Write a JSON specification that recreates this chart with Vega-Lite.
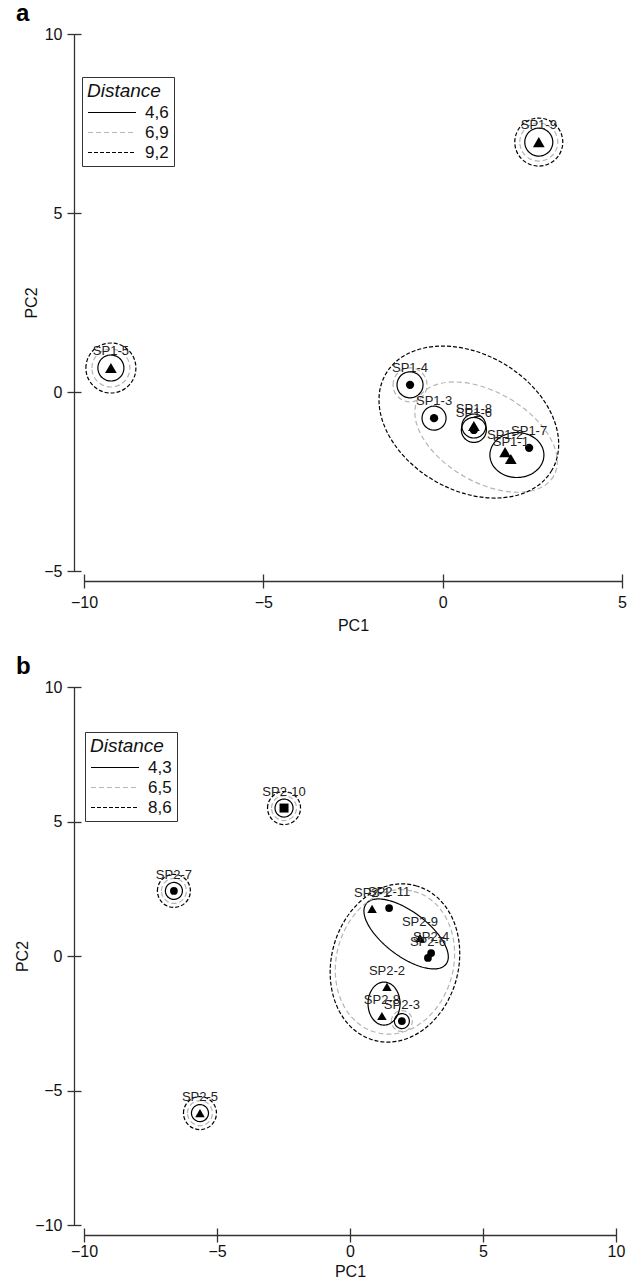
{
 "$schema": "https://vega.github.io/schema/vega-lite/v6.json",
 "padding": {"left": 14, "top": 2, "right": 5, "bottom": 2},
 "bounds": "flush",
 "spacing": 116,
 "config": {
  "view": {"stroke": null},
  "font": "Liberation Sans",
  "axis": {"grid": false, "labelFont": "Liberation Sans", "titleFont": "Liberation Sans", "labelFontSize": 16, "titleFontSize": 16, "titleFontWeight": "normal", "labelColor": "#111", "titleColor": "#111", "domainColor": "#333", "tickColor": "#333", "domainWidth": 1.3, "tickWidth": 1.3, "labelFlush": false, "labelOverlap": false},
  "title": {"anchor": "start", "frame": "group", "fontSize": 24, "fontWeight": "bold", "color": "#000", "font": "Liberation Sans"}
 },
 "datasets": {
  "a_pts": [
   {"label": "SP1-5", "marker": "triangle", "pc1": -9.25, "pc2": 0.67},
   {"label": "SP1-9", "marker": "triangle", "pc1": 2.68, "pc2": 6.98},
   {"label": "SP1-4", "marker": "circle", "pc1": -0.91, "pc2": 0.2},
   {"label": "SP1-3", "marker": "circle", "pc1": -0.24, "pc2": -0.73},
   {"label": "SP1-8", "marker": "triangle", "pc1": 0.87, "pc2": -0.95},
   {"label": "SP1-6", "marker": "circle", "pc1": 0.87, "pc2": -1.06},
   {"label": "SP1-2", "marker": "triangle", "pc1": 1.74, "pc2": -1.68},
   {"label": "SP1-1", "marker": "triangle", "pc1": 1.9, "pc2": -1.87},
   {"label": "SP1-7", "marker": "circle", "pc1": 2.41, "pc2": -1.56}
  ],
  "a_ell": [
   {"id": "a5s", "pc1": -9.25, "pc2": 0.67, "level": "4,6"},
   {"id": "a5g", "pc1": -9.25, "pc2": 0.67, "level": "6,9"},
   {"id": "a5d", "pc1": -9.25, "pc2": 0.67, "level": "9,2"},
   {"id": "a9s", "pc1": 2.68, "pc2": 6.98, "level": "4,6"},
   {"id": "a9g", "pc1": 2.68, "pc2": 6.98, "level": "6,9"},
   {"id": "a9d", "pc1": 2.68, "pc2": 6.98, "level": "9,2"},
   {"id": "a4s", "pc1": -0.91, "pc2": 0.2, "level": "4,6"},
   {"id": "a4g", "pc1": -0.91, "pc2": 0.2, "level": "6,9"},
   {"id": "a3s", "pc1": -0.24, "pc2": -0.73, "level": "4,6"},
   {"id": "a8s", "pc1": 0.87, "pc2": -0.95, "level": "4,6"},
   {"id": "a6s", "pc1": 0.87, "pc2": -1.06, "level": "4,6"},
   {"id": "a1s", "pc1": 2.07, "pc2": -1.76, "level": "4,6"},
   {"id": "a1g", "pc1": 1.21, "pc2": -1.26, "level": "6,9"},
   {"id": "a1d", "pc1": 0.73, "pc2": -0.84, "level": "9,2"}
  ],
  "b_pts": [
   {"label": "SP2-10", "marker": "square", "pc1": -2.48, "pc2": 5.5},
   {"label": "SP2-7", "marker": "circle", "pc1": -6.62, "pc2": 2.42},
   {"label": "SP2-5", "marker": "triangle", "pc1": -5.64, "pc2": -5.84},
   {"label": "SP2-1", "marker": "triangle", "pc1": 0.83, "pc2": 1.75},
   {"label": "SP2-11", "marker": "circle", "pc1": 1.47, "pc2": 1.78},
   {"label": "SP2-9", "marker": "triangle", "pc1": 2.63, "pc2": 0.67},
   {"label": "SP2-4", "marker": "circle", "pc1": 3.05, "pc2": 0.11},
   {"label": "SP2-6", "marker": "circle", "pc1": 2.93, "pc2": -0.07},
   {"label": "SP2-2", "marker": "triangle", "pc1": 1.39, "pc2": -1.15},
   {"label": "SP2-8", "marker": "triangle", "pc1": 1.2, "pc2": -2.23},
   {"label": "SP2-3", "marker": "circle", "pc1": 1.95, "pc2": -2.42}
  ],
  "b_ell": [
   {"id": "b10s", "pc1": -2.48, "pc2": 5.5, "level": "4,3"},
   {"id": "b10g", "pc1": -2.48, "pc2": 5.5, "level": "6,5"},
   {"id": "b10d", "pc1": -2.48, "pc2": 5.5, "level": "8,6"},
   {"id": "b7s", "pc1": -6.62, "pc2": 2.42, "level": "4,3"},
   {"id": "b7g", "pc1": -6.62, "pc2": 2.42, "level": "6,5"},
   {"id": "b7d", "pc1": -6.62, "pc2": 2.42, "level": "8,6"},
   {"id": "b5s", "pc1": -5.64, "pc2": -5.84, "level": "4,3"},
   {"id": "b5g", "pc1": -5.64, "pc2": -5.84, "level": "6,5"},
   {"id": "b5d", "pc1": -5.64, "pc2": -5.84, "level": "8,6"},
   {"id": "b3s", "pc1": 1.95, "pc2": -2.42, "level": "4,3"},
   {"id": "b3g", "pc1": 1.95, "pc2": -2.42, "level": "6,5"},
   {"id": "b1s", "pc1": 2.11, "pc2": 0.82, "level": "4,3"},
   {"id": "b2s", "pc1": 1.28, "pc2": -1.77, "level": "4,3"},
   {"id": "b1g", "pc1": 1.69, "pc2": -0.22, "level": "6,5"},
   {"id": "b1d", "pc1": 1.69, "pc2": -0.26, "level": "8,6"}
  ]
 },
 "resolve": {"scale": {"x": "independent", "y": "independent", "stroke": "independent", "strokeDash": "independent", "shape": "independent"}, "legend": {"stroke": "independent", "strokeDash": "independent"}},
 "vconcat": [
  {
   "width": 538,
   "height": 537,
   "title": {"text": "a", "dx": -68, "offset": 0},
   "resolve": {"axis": {"x": "independent", "y": "independent"}},
   "layer": [
    {
     "data": {"name": "a_ell"},
     "mark": {"type": "point", "filled": false, "size": 4, "strokeWidth": 1.2, "opacity": 1},
     "encoding": {
      "x": {"field": "pc1", "type": "quantitative", "scale": {"domain": [-10, 5], "nice": false, "zero": false}, "axis": {"orient": "bottom", "offset": 10, "values": [-10, -5, 0, 5], "ticks": false, "tickSize": 0, "labelPadding": 13, "title": "PC1", "titlePadding": 7}},
      "y": {"field": "pc2", "type": "quantitative", "scale": {"domain": [-5, 10], "nice": false, "zero": false}, "axis": {"orient": "left", "offset": 10, "values": [-5, 0, 5, 10], "ticks": false, "tickSize": 0, "labelPadding": 12, "title": "PC2", "titlePadding": 4}},
      "shape": {"field": "id", "type": "nominal", "legend": null, "scale": {
       "domain": ["a5s", "a5g", "a5d", "a9s", "a9g", "a9d", "a4s", "a4g", "a3s", "a8s", "a6s", "a1s", "a1g", "a1d"],
       "range": [
        "M-13,0A13,13,0,1,1,13,0A13,13,0,1,1,-13,0Z",
        "M-19,0A19,19,0,1,1,19,0A19,19,0,1,1,-19,0Z",
        "M-25,0A25,25,0,1,1,25,0A25,25,0,1,1,-25,0Z",
        "M-14,0A14,14,0,1,1,14,0A14,14,0,1,1,-14,0Z",
        "M-19,0A19,19,0,1,1,19,0A19,19,0,1,1,-19,0Z",
        "M-24,0A24,24,0,1,1,24,0A24,24,0,1,1,-24,0Z",
        "M-13,0A13,13,0,1,1,13,0A13,13,0,1,1,-13,0Z",
        "M-17,0A17,17,0,1,1,17,0A17,17,0,1,1,-17,0Z",
        "M-12,0A12,12,0,1,1,12,0A12,12,0,1,1,-12,0Z",
        "M-12,0A12,12,0,1,1,12,0A12,12,0,1,1,-12,0Z",
        "M-12.5,0A12.5,12.5,0,1,1,12.5,0A12.5,12.5,0,1,1,-12.5,0Z",
        "M-27,0A27,22.5,0,1,1,27,0A27,22.5,0,1,1,-27,0Z",
        "M67.55,39A78,45,30,1,1,-67.55,-39A78,45,30,1,1,67.55,39Z",
        "M83.14,48A96,68,30,1,1,-83.14,-48A96,68,30,1,1,83.14,48Z"
       ]}},
      "stroke": {"field": "level", "type": "nominal", "scale": {"domain": ["4,6", "6,9", "9,2"], "range": ["#000000", "#b5b5b5", "#000000"]},
       "legend": {"title": "Distance", "orient": "none", "legendX": -2, "legendY": 43, "symbolType": "M-1,0L4.65,0", "symbolSize": 289, "symbolStrokeWidth": 1.2, "labelFontSize": 17, "labelFont": "Liberation Sans", "titleFont": "Liberation Sans", "titleFontSize": 19, "titleFontStyle": "italic", "titleFontWeight": "normal", "titleColor": "#111", "labelColor": "#111", "labelOffset": 39, "padding": 5, "rowPadding": 2, "strokeColor": "#333", "fillColor": "#ffffff", "titlePadding": 2, "cornerRadius": 0}},
      "strokeDash": {"field": "level", "type": "nominal", "scale": {"domain": ["4,6", "6,9", "9,2"], "range": [[1, 0], [5, 3], [4, 2]]},
       "legend": {"title": "Distance", "orient": "none", "legendX": -2, "legendY": 43, "symbolType": "M-1,0L4.65,0", "symbolSize": 289, "symbolStrokeWidth": 1.2, "labelFontSize": 17, "labelFont": "Liberation Sans", "titleFont": "Liberation Sans", "titleFontSize": 19, "titleFontStyle": "italic", "titleFontWeight": "normal", "titleColor": "#111", "labelColor": "#111", "labelOffset": 39, "padding": 5, "rowPadding": 2, "strokeColor": "#333", "fillColor": "#ffffff", "titlePadding": 2, "cornerRadius": 0}}
     }
    },
    {
     "data": {"name": "a_pts"},
     "transform": [{"filter": "datum.marker === 'triangle'"}],
     "mark": {"type": "point", "shape": "triangle-up", "filled": true, "size": 137, "color": "#000", "opacity": 1},
     "encoding": {
      "x": {"field": "pc1", "type": "quantitative", "scale": {"domain": [-10, 5], "nice": false, "zero": false}, "axis": {"orient": "bottom", "offset": 3, "values": [-10, -5, 0, 5], "tickSize": 14, "labels": false, "domain": false, "title": null}},
      "y": {"field": "pc2", "type": "quantitative", "scale": {"domain": [-5, 10], "nice": false, "zero": false}, "axis": {"orient": "left", "offset": 3, "values": [-5, 0, 5, 10], "tickSize": 14, "labels": false, "domain": false, "title": null}}
     }
    },
    {
     "data": {"name": "a_pts"},
     "transform": [{"filter": "datum.marker === 'circle'"}],
     "mark": {"type": "point", "shape": "circle", "filled": true, "size": 69, "color": "#000", "opacity": 1},
     "encoding": {
      "x": {"field": "pc1", "type": "quantitative", "scale": {"domain": [-10, 5], "nice": false, "zero": false}, "axis": null},
      "y": {"field": "pc2", "type": "quantitative", "scale": {"domain": [-5, 10], "nice": false, "zero": false}, "axis": null}
     }
    },
    {
     "data": {"name": "a_pts"},
     "mark": {"type": "text", "fontSize": 13, "dy": -17, "baseline": "middle", "font": "Liberation Sans", "color": "#222"},
     "encoding": {
      "x": {"field": "pc1", "type": "quantitative", "scale": {"domain": [-10, 5], "nice": false, "zero": false}, "axis": null},
      "y": {"field": "pc2", "type": "quantitative", "scale": {"domain": [-5, 10], "nice": false, "zero": false}, "axis": null},
      "text": {"field": "label", "type": "nominal"}
     }
    }
   ]
  },
  {
   "width": 532,
   "height": 538,
   "title": {"text": "b", "dx": -68, "offset": 0},
   "resolve": {"axis": {"x": "independent", "y": "independent"}},
   "layer": [
    {
     "data": {"name": "b_ell"},
     "mark": {"type": "point", "filled": false, "size": 4, "strokeWidth": 1.2, "opacity": 1},
     "encoding": {
      "x": {"field": "pc1", "type": "quantitative", "scale": {"domain": [-10, 10], "nice": false, "zero": false}, "axis": {"orient": "bottom", "offset": 10, "values": [-10, -5, 0, 5, 10], "ticks": false, "tickSize": 0, "labelPadding": 8, "title": "PC1", "titlePadding": 4}},
      "y": {"field": "pc2", "type": "quantitative", "scale": {"domain": [-10, 10], "nice": false, "zero": false}, "axis": {"orient": "left", "offset": 10, "values": [-10, -5, 0, 5, 10], "ticks": false, "tickSize": 0, "labelPadding": 12, "title": "PC2", "titlePadding": 4}},
      "shape": {"field": "id", "type": "nominal", "legend": null, "scale": {
       "domain": ["b10s", "b10g", "b10d", "b7s", "b7g", "b7d", "b5s", "b5g", "b5d", "b3s", "b3g", "b1s", "b2s", "b1g", "b1d"],
       "range": [
        "M-9,0A9,9,0,1,1,9,0A9,9,0,1,1,-9,0Z",
        "M-12.5,0A12.5,12.5,0,1,1,12.5,0A12.5,12.5,0,1,1,-12.5,0Z",
        "M-16.5,0A16.5,16.5,0,1,1,16.5,0A16.5,16.5,0,1,1,-16.5,0Z",
        "M-8.5,0A8.5,8.5,0,1,1,8.5,0A8.5,8.5,0,1,1,-8.5,0Z",
        "M-12.5,0A12.5,12.5,0,1,1,12.5,0A12.5,12.5,0,1,1,-12.5,0Z",
        "M-16.5,0A16.5,16.5,0,1,1,16.5,0A16.5,16.5,0,1,1,-16.5,0Z",
        "M-8.5,0A8.5,8.5,0,1,1,8.5,0A8.5,8.5,0,1,1,-8.5,0Z",
        "M-12.5,0A12.5,12.5,0,1,1,12.5,0A12.5,12.5,0,1,1,-12.5,0Z",
        "M-16.5,0A16.5,16.5,0,1,1,16.5,0A16.5,16.5,0,1,1,-16.5,0Z",
        "M-7.5,0A7.5,7.5,0,1,1,7.5,0A7.5,7.5,0,1,1,-7.5,0Z",
        "M-10.5,0A10.5,10.5,0,1,1,10.5,0A10.5,10.5,0,1,1,-10.5,0Z",
        "M39.93,30.09A50,22,37,1,1,-39.93,-30.09A50,22,37,1,1,39.93,30.09Z",
        "M-16,0A16,21.5,0,1,1,16,0A16,21.5,0,1,1,-16,0Z",
        "M18.89,-70.51A73,58,-75,1,1,-18.89,70.51A73,58,-75,1,1,18.89,-70.51Z",
        "M20.71,-77.27A80,63,-75,1,1,-20.71,77.27A80,63,-75,1,1,20.71,-77.27Z"
       ]}},
      "stroke": {"field": "level", "type": "nominal", "scale": {"domain": ["4,3", "6,5", "8,6"], "range": ["#000000", "#b5b5b5", "#000000"]},
       "legend": {"title": "Distance", "orient": "none", "legendX": 1, "legendY": 45, "symbolType": "M-1,0L4.65,0", "symbolSize": 289, "symbolStrokeWidth": 1.2, "labelFontSize": 17, "labelFont": "Liberation Sans", "titleFont": "Liberation Sans", "titleFontSize": 19, "titleFontStyle": "italic", "titleFontWeight": "normal", "titleColor": "#111", "labelColor": "#111", "labelOffset": 39, "padding": 5, "rowPadding": 2, "strokeColor": "#333", "fillColor": "#ffffff", "titlePadding": 2, "cornerRadius": 0}},
      "strokeDash": {"field": "level", "type": "nominal", "scale": {"domain": ["4,3", "6,5", "8,6"], "range": [[1, 0], [5, 3], [4, 2]]},
       "legend": {"title": "Distance", "orient": "none", "legendX": 1, "legendY": 45, "symbolType": "M-1,0L4.65,0", "symbolSize": 289, "symbolStrokeWidth": 1.2, "labelFontSize": 17, "labelFont": "Liberation Sans", "titleFont": "Liberation Sans", "titleFontSize": 19, "titleFontStyle": "italic", "titleFontWeight": "normal", "titleColor": "#111", "labelColor": "#111", "labelOffset": 39, "padding": 5, "rowPadding": 2, "strokeColor": "#333", "fillColor": "#ffffff", "titlePadding": 2, "cornerRadius": 0}}
     }
    },
    {
     "data": {"name": "b_pts"},
     "transform": [{"filter": "datum.marker === 'triangle'"}],
     "mark": {"type": "point", "shape": "triangle-up", "filled": true, "size": 90, "color": "#000", "opacity": 1},
     "encoding": {
      "x": {"field": "pc1", "type": "quantitative", "scale": {"domain": [-10, 10], "nice": false, "zero": false}, "axis": {"orient": "bottom", "offset": 3, "values": [-10, -5, 0, 5, 10], "tickSize": 14, "labels": false, "domain": false, "title": null}},
      "y": {"field": "pc2", "type": "quantitative", "scale": {"domain": [-10, 10], "nice": false, "zero": false}, "axis": {"orient": "left", "offset": 3, "values": [-10, -5, 0, 5, 10], "tickSize": 14, "labels": false, "domain": false, "title": null}}
     }
    },
    {
     "data": {"name": "b_pts"},
     "transform": [{"filter": "datum.marker === 'circle'"}],
     "mark": {"type": "point", "shape": "circle", "filled": true, "size": 60, "color": "#000", "opacity": 1},
     "encoding": {
      "x": {"field": "pc1", "type": "quantitative", "scale": {"domain": [-10, 10], "nice": false, "zero": false}, "axis": null},
      "y": {"field": "pc2", "type": "quantitative", "scale": {"domain": [-10, 10], "nice": false, "zero": false}, "axis": null}
     }
    },
    {
     "data": {"name": "b_pts"},
     "transform": [{"filter": "datum.marker === 'square'"}],
     "mark": {"type": "point", "shape": "square", "filled": true, "size": 81, "color": "#000", "opacity": 1},
     "encoding": {
      "x": {"field": "pc1", "type": "quantitative", "scale": {"domain": [-10, 10], "nice": false, "zero": false}, "axis": null},
      "y": {"field": "pc2", "type": "quantitative", "scale": {"domain": [-10, 10], "nice": false, "zero": false}, "axis": null}
     }
    },
    {
     "data": {"name": "b_pts"},
     "mark": {"type": "text", "fontSize": 13, "dy": -16, "baseline": "middle", "font": "Liberation Sans", "color": "#222"},
     "encoding": {
      "x": {"field": "pc1", "type": "quantitative", "scale": {"domain": [-10, 10], "nice": false, "zero": false}, "axis": null},
      "y": {"field": "pc2", "type": "quantitative", "scale": {"domain": [-10, 10], "nice": false, "zero": false}, "axis": null},
      "text": {"field": "label", "type": "nominal"}
     }
    }
   ]
  }
 ]
}
